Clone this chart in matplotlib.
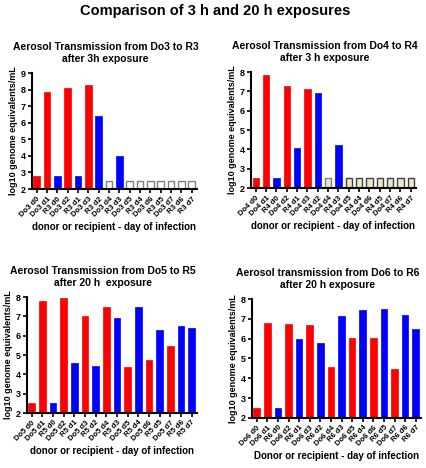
import numpy as np
import matplotlib.pyplot as plt

plt.rcParams['font.family'] = ['Liberation Sans', 'DejaVu Sans']

# panel 1: Do3 -> R3, 3h
lab1 = ['Do3 d0', 'Do3 d1', 'R3 d0', 'Do3 d2', 'R3 d1', 'Do3 d3', 'R3 d2', 'Do3 d4',
        'R3 d3', 'Do3 d5', 'R3 d4', 'Do3 d6', 'R3 d5', 'Do3 d7', 'R3 d6', 'R3 d7']
val1 = [2.8, 7.85, 2.8, 8.1, 2.8, 8.25, 6.4, 2.5, 4.0, 2.5, 2.5, 2.5, 2.5, 2.5, 2.5, 2.5]
col1 = ['r', 'r', 'b', 'r', 'b', 'r', 'b', 'w', 'b', 'w', 'w', 'w', 'w', 'w', 'w', 'w']

# panel 2: Do4 -> R4, 3h
lab2 = ['Do4 d0', 'Do4 d1', 'R4 d0', 'Do4 d2', 'R4 d1', 'Do4 d3', 'R4 d2', 'Do4 d4',
        'R4 d3', 'Do4 d5', 'R4 d4', 'Do4 d6', 'R4 d5', 'Do4 d7', 'R4 d6', 'R4 d7']
val2 = [2.5, 7.85, 2.5, 7.3, 4.05, 7.1, 6.9, 2.5, 4.25, 2.5, 2.5, 2.5, 2.5, 2.5, 2.5, 2.5]
col2 = ['r', 'r', 'b', 'r', 'b', 'r', 'b', 'g', 'b', 'y', 'y', 'y', 'y', 'y', 'y', 'y']

# panel 3: Do5 -> R5, 20h
lab3 = ['Do5 d0', 'Do5 d1', 'R5 d0', 'Do5 d2', 'R5 d1', 'Do5 d3', 'R5 d2', 'Do5 d4',
        'R5 d3', 'Do5 d5', 'R5 d4', 'Do5 d6', 'R5 d5', 'Do5 d7', 'R5 d6', 'R5 d7']
val3 = [2.5, 7.8, 2.5, 7.95, 4.6, 7.05, 4.45, 7.5, 6.9, 4.4, 7.5, 4.75, 6.3, 5.45, 6.5, 6.4]
col3 = ['r', 'r', 'b', 'r', 'b', 'r', 'b', 'r', 'b', 'r', 'b', 'r', 'b', 'r', 'b', 'b']

# panel 4: Do6 -> R6, 20h
lab4 = ['Do6 d0', 'Do6 d1', 'R6 d0', 'Do6 d2', 'R6 d1', 'Do6 d3', 'R6 d2', 'Do6 d4',
        'R6 d3', 'Do6 d5', 'R6 d4', 'Do6 d6', 'R6 d5', 'Do6 d7', 'R6 d6', 'R6 d7']
val4 = [2.5, 6.8, 2.5, 6.75, 6.0, 6.7, 5.8, 4.55, 7.15, 6.05, 7.45, 6.05, 7.5, 4.45, 7.2, 6.5]
col4 = col3

fills = {'r': '#ff0000', 'b': '#0000ff', 'w': 'white', 'g': '#e4e4e4', 'y': '#efe6cc'}
edges = {'r': '#ff0000', 'b': '#0000ff', 'w': '#808080', 'g': '#808080', 'y': '#404040'}

fig = plt.figure(figsize=(4.27, 4.68), dpi=100)
fig.text(0.505, 0.992, 'Comparison of 3 h and 20 h exposures', ha='center', va='top',
         fontsize=10.5, fontweight='bold')

panels = [
    ([0.075, 0.596, 0.386, 0.248], lab1, val1, col1, 9,
     'Aerosol Transmission from Do3 to R3\nafter 3h exposure', 'donor or recipient - day of infection'),
    ([0.588, 0.598, 0.386, 0.248], lab2, val2, col2, 8,
     'Aerosol Transmission from Do4 to R4\nafter 3 h exposure', 'donor or recipient - day of infection'),
    ([0.063, 0.1175, 0.398, 0.2475], lab3, val3, col3, 8,
     'Aerosol Transmission from Do5 to R5\nafter 20 h  exposure', 'donor or recipient - day of infection'),
    ([0.590, 0.107, 0.396, 0.254], lab4, val4, col4, 8,
     'Aerosol transmission from Do6 to R6\nafter 20 h exposure', 'Donor or recipient - day of infection'),
]

for rect, labs, vals, cols, ytop, title, xlab in panels:
    ax = fig.add_axes(rect)
    x = np.arange(len(vals))
    lw = [1.0 if c in 'wgy' else 0.5 for c in cols]
    ax.bar(x, np.array(vals) - 2, bottom=2, width=0.62,
           color=[fills[c] for c in cols], edgecolor=[edges[c] for c in cols], linewidth=lw)
    ax.set_ylim(2, ytop)
    ax.set_xlim(-0.45, len(vals) - 0.5)
    ax.set_yticks(range(2, ytop + 1))
    ax.set_xticks(x)
    ax.set_xticklabels(labs, rotation=45, ha='right', rotation_mode='anchor',
                       fontsize=5.5, fontweight='bold')
    for t in ax.get_yticklabels():
        t.set_fontweight('bold')
        t.set_fontsize(6.5)
    ax.spines['top'].set_visible(False)
    ax.spines['right'].set_visible(False)
    ax.spines['left'].set_linewidth(1.5)
    ax.spines['bottom'].set_linewidth(1.5)
    ax.tick_params(width=1.2, length=3, pad=1.5)
    ttl = ax.set_title(title, fontsize=7.5, fontweight='bold', pad=8)
    ttl.set_x(0.5 - 9.0 / (rect[2] * 427))
    ax.set_ylabel('log10 genome equivalents/mL', fontsize=6.5, fontweight='bold', labelpad=2)
    ax.set_xlabel(xlab, fontsize=7, fontweight='bold', labelpad=3)

plt.savefig('out.png', dpi=100)
